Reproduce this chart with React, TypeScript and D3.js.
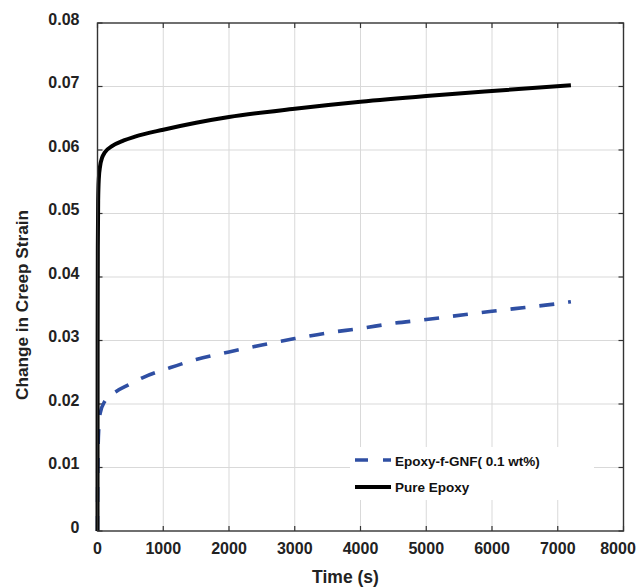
import React from "react";
import * as d3 from "d3";

// time (s) and strain
const pureTime = [0, 2, 5, 10, 20, 40, 70, 110, 220, 400, 570, 1000, 1500, 2000, 3000, 4000, 5000, 6000, 7200];
const pureStrain = [0, 0.03, 0.045, 0.052, 0.0555, 0.0575, 0.0588, 0.0596, 0.0606, 0.0615, 0.0621, 0.0632, 0.0643, 0.0652, 0.0665, 0.0676, 0.0685, 0.0693, 0.0702];

const gnfTime = [0, 3, 10, 20, 40, 110, 290, 470, 700, 1100, 1500, 2000, 2500, 3000, 3500, 4000, 4500, 5000, 5600, 6000, 6500, 7000, 7200];
const gnfStrain = [0, 0.008, 0.0135, 0.0162, 0.0185, 0.0204, 0.022, 0.023, 0.0242, 0.0257, 0.027, 0.0282, 0.0293, 0.0303, 0.0312, 0.0319, 0.0327, 0.0333, 0.0341, 0.0346, 0.0352, 0.0358, 0.0361];

const xTicks = [0, 1000, 2000, 3000, 4000, 5000, 6000, 7000, 8000];
const yTicks = [0, 0.01, 0.02, 0.03, 0.04, 0.05, 0.06, 0.07, 0.08];
const legendLabels = ["Epoxy-f-GNF( 0.1 wt%)", "Pure Epoxy"];

const W = 637;
const H = 587;
const margin = { top: 23, right: 13.5, bottom: 56, left: 97.5 };
const font = "'Liberation Sans', Arial, Helvetica, sans-serif";
const blue = "#2f4fa3";

const App = () => {
  const x = d3.scaleLinear().domain([0, 8000]).range([margin.left, W - margin.right]);
  const y = d3.scaleLinear().domain([0, 0.08]).range([H - margin.bottom, margin.top]);

  const myLine = d3
    .line<[number, number]>()
    .x((d) => x(d[0]))
    .y((d) => y(d[1]))
    .curve(d3.curveMonotoneX);

  const pureData = pureTime.map((t, i) => [t, pureStrain[i]] as [number, number]);
  const gnfData = gnfTime.map((t, i) => [t, gnfStrain[i]] as [number, number]);

  const x0 = margin.left;
  const x1 = W - margin.right;
  const y0 = H - margin.bottom;
  const y1 = margin.top;
  const tk = 5;

  return (
    <svg width={W} height={H} style={{ position: "absolute", left: 0, top: 0 }} fontFamily={font}>
      <rect width={W} height={H} fill="#fff" />
      {/* grid */}
      <g stroke="#d9d9d9" strokeWidth={1}>
        {xTicks.slice(1, -1).map((t) => (
          <line key={"gx" + t} x1={x(t)} x2={x(t)} y1={y1} y2={y0} />
        ))}
        {yTicks.slice(1, -1).map((t) => (
          <line key={"gy" + t} x1={x0} x2={x1} y1={y(t)} y2={y(t)} />
        ))}
      </g>

      {/* legend box hides the grid */}
      <rect x={350} y={447} width={244} height={53} fill="#fff" />

      {/* ticks, pointing inward on all sides */}
      <g stroke="#333" strokeWidth={1.2}>
        {xTicks.map((t) => (
          <React.Fragment key={"tx" + t}>
            <line x1={x(t)} x2={x(t)} y1={y0} y2={y0 - tk} />
            <line x1={x(t)} x2={x(t)} y1={y1} y2={y1 + tk} />
          </React.Fragment>
        ))}
        {yTicks.map((t) => (
          <React.Fragment key={"ty" + t}>
            <line x1={x0} x2={x0 + tk} y1={y(t)} y2={y(t)} />
            <line x1={x1} x2={x1 - tk} y1={y(t)} y2={y(t)} />
          </React.Fragment>
        ))}
      </g>

      <path d={myLine(gnfData) || ""} fill="none" stroke={blue} strokeWidth={3.6} strokeDasharray="15,14" />
      <path d={myLine(pureData) || ""} fill="none" stroke="#000" strokeWidth={4} />

      <rect x={x0} y={y1} width={x1 - x0} height={y0 - y1} fill="none" stroke="#333" strokeWidth={1.4} />

      {/* tick labels */}
      <g fontSize={16} fontWeight="bold" fill="#222">
        {xTicks.map((t) => (
          <text key={"lx" + t} x={Math.min(x(t), W - 19)} y={554} textAnchor="middle">
            {t}
          </text>
        ))}
        {yTicks.map((t) => (
          <text key={"ly" + t} x={79.5} y={y(t) + 1.7} textAnchor="end">
            {t === 0 ? "0" : t.toFixed(2)}
          </text>
        ))}
      </g>

      {/* axis titles */}
      <text x={345.5} y={583} fontSize={17.5} fontWeight="bold" fill="#222" textAnchor="middle">
        Time (s)
      </text>
      <text
        transform="translate(28,305) rotate(-90)"
        fontSize={17.2}
        fontWeight="bold"
        fill="#222"
        textAnchor="middle"
      >
        Change in Creep Strain
      </text>

      {/* legend */}
      <line x1={355} x2={391} y1={460} y2={460} stroke={blue} strokeWidth={3.6} strokeDasharray="13,15" />
      <line x1={355} x2={391} y1={487} y2={487} stroke="#000" strokeWidth={4} />
      <g fontSize={13.5} fontWeight="bold" fill="#111">
        <text x={395} y={466}>
          {legendLabels[0]}
        </text>
        <text x={395} y={491.5}>
          {legendLabels[1]}
        </text>
      </g>
    </svg>
  );
};

export default App;
